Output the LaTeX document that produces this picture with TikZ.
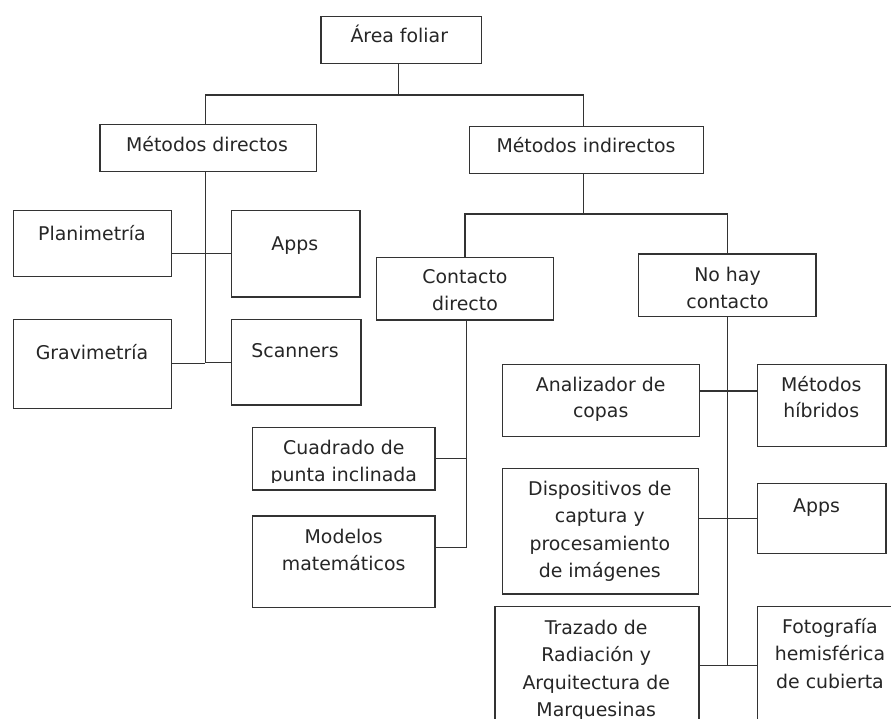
\documentclass[tikz,border=0pt]{standalone}
\usepackage{fontspec}
\setmainfont{DejaVu Sans}
\begin{document}
\begin{tikzpicture}[x=1pt,y=-1pt,
  box/.style={draw=black!80, line width=1.2pt, inner sep=0pt, outer sep=0pt},
  txt/.style={align=center, inner sep=0pt, outer sep=0pt, font=\fontsize{18.9}{27}\selectfont, text=black!85, anchor=base},
  conn/.style={draw=black!80, line width=1.2pt}]
\useasboundingbox[fill=white] (0,0) rectangle (891,718);
% boxes
\node[box, minimum width=160.7pt, minimum height=46.6pt] (af) at (401.35,40) {};
\node[box, minimum width=216.7pt, minimum height=46.6pt] (md) at (208.35,148) {};
\node[box, minimum width=234pt, minimum height=46.6pt] (mi) at (586.3,150) {};
\node[box, minimum width=158.4pt, minimum height=66pt] (pl) at (92.5,243.7) {};
\node[box, minimum width=128.7pt, minimum height=86.3pt] (ap1) at (295.65,253.85) {};
\node[box, minimum width=158.4pt, minimum height=89pt] (gr) at (92.5,363.8) {};
\node[box, minimum width=129.7pt, minimum height=85.7pt] (sc) at (296.15,362.15) {};
\node[box, minimum width=177pt, minimum height=62.7pt] (cd) at (465.2,288.65) {};
\node[box, minimum width=177.3pt, minimum height=62.7pt] (nh) at (727.35,285.35) {};
\node[box, minimum width=196.6pt, minimum height=72.4pt] (an) at (601,400.5) {};
\node[box, minimum width=128.3pt, minimum height=82.4pt] (hi) at (821.85,405.5) {};
\node[box, minimum width=182.3pt, minimum height=62.3pt] (cu) at (343.85,458.85) {};
\node[box, minimum width=182.3pt, minimum height=91.3pt] (mo) at (343.85,561.65) {};
\node[box, minimum width=195.6pt, minimum height=125.7pt] (di) at (600.5,531.15) {};
\node[box, minimum width=128.3pt, minimum height=70pt] (ap2) at (821.85,518.3) {};
\node[box, minimum width=204pt, minimum height=133.3pt] (tr) at (597,673.35) {};
\node[box, minimum width=145.3pt, minimum height=133.3pt] (fo) at (830.35,673.35) {};
% texts (anchor = baseline of last line)
\node[txt] (aft) at (399.3,42.7) {Área foliar};
\node[txt] (mdt) at (207,151) {Métodos directos};
\node[txt] (mit) at (586,152.3) {Métodos indirectos};
\node[txt] (plt) at (92,240) {Planimetría};
\node[txt] (ap1t) at (294.8,250) {Apps};
\node[txt] (grt) at (92,359) {Gravimetría};
\node[txt] (sct) at (295,357.7) {Scanners};
\node[txt] (cdt) at (465,310.8) {Contacto\\directo};
\node[txt] (nht) at (727.5,308.5) {No hay\\contacto};
\node[txt, font=\fontsize{18.9}{26}\selectfont] (ant) at (600.7,417.5) {Analizador de\\copas};
\node[txt, font=\fontsize{18.9}{26}\selectfont] (hit) at (821.3,417.7) {Métodos\\híbridos};
\begin{scope}
\clip (250,420) rectangle (440,482.5);
\node[txt, font=\fontsize{18.9}{26.7}\selectfont] (cut) at (343.8,481) {Cuadrado de\\punta inclinada};
\end{scope}
\node[txt, font=\fontsize{18.9}{26.7}\selectfont] (mot) at (343.7,570) {Modelos\\matemáticos};
\node[txt, font=\fontsize{18.9}{27.5}\selectfont] (dit) at (599.8,577.5) {Dispositivos de\\captura y\\procesamiento\\de imágenes};
\node[txt] (ap2t) at (816.5,512.7) {Apps};
\node[txt, font=\fontsize{18.9}{27.6}\selectfont] (trt) at (596.2,716.8) {Trazado de\\Radiación y\\Arquitectura de\\Marquesinas};
\node[txt, font=\fontsize{18.9}{27.5}\selectfont] (fot) at (830,688.3) {Fotografía\\hemisférica\\de cubierta};
% connectors
\coordinate (j0) at (398.3,95);
\coordinate (mdx) at (205.3,95);
\coordinate (mix) at (583.3,95);
\draw[conn] (af.south -| j0) -- (j0);
\draw[conn] (mdx |- md.north) -- (mdx) -- (mix) -- (mix |- mi.north);
\coordinate (mdb) at (205.3,363);
\draw[conn] (mdx |- md.south) -- (mdb);
\draw[conn] (pl.east |- ap1.west) -- (ap1.west);
\draw[conn] (gr.east) -- (gr.east -| mdb);
\draw[conn] (sc.west) -- (sc.west -| mdb);
\coordinate (j1) at (583.3,214);
\coordinate (cdx) at (465,214);
\coordinate (nhx) at (727.3,214);
\draw[conn] (mi.south -| j1) -- (j1);
\draw[conn] (cdx |- cd.north) -- (cdx) -- (nhx) -- (nhx |- nh.north);
\coordinate (cdb) at (466.7,547.3);
\draw[conn] (cdb |- cd.south) -- (cdb);
\draw[conn] (cu.east) -- (cu.east -| cdb);
\draw[conn] (mo.east |- cdb) -- (cdb);
\coordinate (nhb) at (727.3,665.7);
\draw[conn] (nhb |- nh.south) -- (nhb);
\coordinate (k1) at (727.3,391);
\draw[conn] (k1 -| an.east) -- (k1 -| hi.west);
\draw[conn] (ap2.west -| di.east) -- (ap2.west);
\draw[conn] (nhb -| tr.east) -- (nhb -| fo.west);
\end{tikzpicture}
\end{document}
